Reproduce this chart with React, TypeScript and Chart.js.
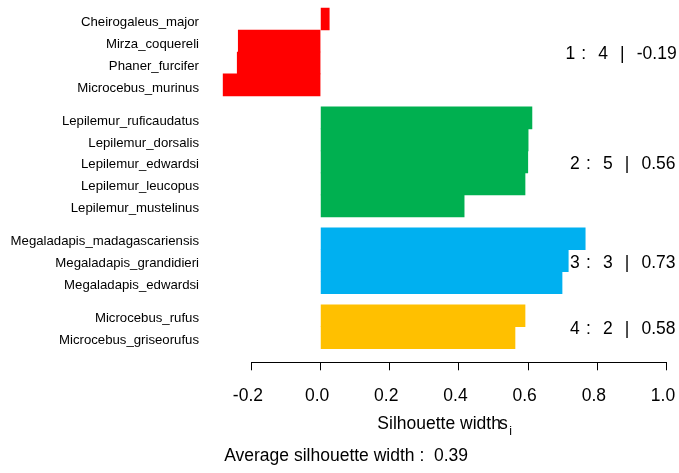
import React, { useEffect, useRef } from "react";
import { Chart, registerables } from "chart.js";

Chart.register(...registerables);

// ---- data ----
const cluster1Names = ["Cheirogaleus_major", "Mirza_coquereli", "Phaner_furcifer", "Microcebus_murinus"];
const cluster1Values = [0.025, -0.238, -0.241, -0.283];

const cluster2Names = [
  "Lepilemur_ruficaudatus",
  "Lepilemur_dorsalis",
  "Lepilemur_edwardsi",
  "Lepilemur_leucopus",
  "Lepilemur_mustelinus",
];
const cluster2Values = [0.611, 0.6, 0.599, 0.591, 0.415];

const cluster3Names = ["Megaladapis_madagascariensis", "Megaladapis_grandidieri", "Megaladapis_edwardsi"];
const cluster3Values = [0.765, 0.716, 0.698];

const cluster4Names = ["Microcebus_rufus", "Microcebus_griseorufus"];
const cluster4Values = [0.591, 0.562];

const clusterColors = ["#FF0000", "#00B050", "#00B0F0", "#FFC000"];
const clusterAvgLabels = ["-0.19", "0.56", "0.73", "0.58"];
const overallAverageLabel = "0.39";
const xTickValues = [-0.2, 0.0, 0.2, 0.4, 0.6, 0.8, 1.0];

const clusterNames = [cluster1Names, cluster2Names, cluster3Names, cluster4Names];
const clusterValues = [cluster1Values, cluster2Values, cluster3Values, cluster4Values];

const FONT = "'Liberation Sans', Arial, Helvetica, sans-serif";
const AXIS_FONT_SIZE = 17.5;
const NAME_FONT_SIZE = 13.2;

export default function App() {
  const ref = useRef<HTMLCanvasElement>(null);

  useEffect(() => {
    if (!ref.current) return;

    const names: string[] = [];
    const points: { x: number; y: number }[] = [];
    const colors: string[] = [];
    const groups: { center: number; text: string }[] = [];
    let offset = 0;
    clusterValues.forEach((vals, c) => {
      if (c > 0) offset += 0.5; // R silhouette gap between clusters
      const start = offset;
      vals.forEach((v, i) => {
        points.push({ x: v, y: offset + 0.5 });
        names.push(clusterNames[c][i]);
        colors.push(clusterColors[c]);
        offset += 1;
      });
      groups.push({
        center: (start + offset) / 2,
        text: `${c + 1} :  ${vals.length}  |  ${clusterAvgLabels[c]}`,
      });
    });
    const total = offset;
    const positions = points.map((p) => p.y);
    const allValues = points.map((p) => p.x);
    const xMin = Math.min(0, ...allValues);

    const overlay = {
      id: "silhouetteOverlay",
      afterDraw(chart: any) {
        const ctx = chart.ctx as CanvasRenderingContext2D;
        const xs = chart.scales.x;
        const ys = chart.scales.y;
        const area = chart.chartArea;
        ctx.save();
        ctx.fillStyle = "#000";
        ctx.strokeStyle = "#000";
        ctx.lineWidth = 1;

        // R-style axis line spanning the ticks only
        const ay = Math.floor(area.bottom) + 0.5;
        ctx.beginPath();
        ctx.moveTo(xs.getPixelForValue(xTickValues[0]), ay);
        ctx.lineTo(xs.getPixelForValue(xTickValues[xTickValues.length - 1]), ay);
        ctx.stroke();

        // axis title: Silhouette width s_i
        const cx = (area.left + area.right) / 2;
        ctx.font = `${AXIS_FONT_SIZE}px ${FONT}`;
        ctx.textBaseline = "alphabetic";
        ctx.textAlign = "left";
        const main = "Silhouette width";
        const w1 = ctx.measureText(main).width;
        const ws = ctx.measureText("s").width;
        ctx.font = `${AXIS_FONT_SIZE * 0.7}px ${FONT}`;
        const wi = ctx.measureText("i").width;
        const totalW = w1 - 2 + ws + 1.5 + wi;
        const sx = cx - totalW / 2;
        const baseY = 429;
        ctx.font = `${AXIS_FONT_SIZE}px ${FONT}`;
        ctx.fillText(main, sx, baseY);
        const sPos = sx + w1 - 2;
        ctx.fillText("s", sPos, baseY);
        ctx.font = `${AXIS_FONT_SIZE * 0.7}px ${FONT}`;
        ctx.fillText("i", sPos + ws + 1.5, baseY + 5.5);

        // subtitle
        ctx.font = `${AXIS_FONT_SIZE}px ${FONT}`;
        ctx.fillText(`Average silhouette width :  ${overallAverageLabel}`, area.left + 1.5, 461);

        // cluster statistics on the right (adj = 0.8)
        ctx.textBaseline = "middle";
        const spaceExtra = 1.2;
        (ctx as any).wordSpacing = `${spaceExtra}px`;
        const anchor = xs.getPixelForValue(0.965);
        groups.forEach((g) => {
          const base = ctx.measureText(g.text).width;
          const spaces = (g.text.match(/ /g) || []).length;
          // make width robust whether or not measureText includes word spacing
          ctx.save();
          (ctx as any).wordSpacing = "0px";
          const plain = ctx.measureText(g.text).width;
          ctx.restore();
          const w = Math.abs(base - plain) > 0.5 ? base : plain + spaces * spaceExtra;
          ctx.fillText(g.text, anchor - 0.8 * w, ys.getPixelForValue(g.center) + 2.5);
        });
        ctx.restore();
      },
    };

    const chart = new Chart(ref.current, {
      type: "bar",
      data: {
        datasets: [
          {
            data: points as any,
            backgroundColor: colors,
            borderWidth: 0,
            barPercentage: 1,
            categoryPercentage: 1,
          },
        ],
      },
      options: {
        animation: false,
        responsive: true,
        maintainAspectRatio: false,
        indexAxis: "y",
        layout: { padding: { left: 0, right: 12.5, top: 0, bottom: 0 } },
        plugins: { legend: { display: false }, tooltip: { enabled: false } },
        scales: {
          x: {
            type: "linear",
            min: xMin,
            max: 1,
            offset: false,
            border: { display: false },
            grid: {
              display: true,
              drawOnChartArea: false,
              drawTicks: true,
              tickLength: 8,
              color: "#000",
              lineWidth: 1,
            },
            ticks: {
              autoSkip: false,
              maxRotation: 0,
              padding: 15.2,
              labelOffset: -3.5,
              color: "#000",
              font: { family: FONT, size: AXIS_FONT_SIZE },
              callback: (v: any) => Number(v).toFixed(1),
            },
            afterBuildTicks: (scale: any) => {
              scale.ticks = xTickValues.map((v) => ({ value: v }));
            },
            afterFit: (scale: any) => {
              scale.height = 110.7;
              scale.paddingLeft = 0;
              scale.paddingRight = 0;
              scale.paddingTop = 0;
              scale.paddingBottom = 0;
            },
          },
          y: {
            type: "linear",
            reverse: true,
            offset: false,
            min: -0.364,
            max: total * 1.04,
            border: { display: false },
            grid: { display: false, drawTicks: false, offset: false },
            ticks: {
              autoSkip: false,
              padding: 23.7,
              labelOffset: 3,
              color: "#000",
              font: { family: FONT, size: NAME_FONT_SIZE },
              callback: (_v: any, i: number) => names[i],
            },
            afterBuildTicks: (scale: any) => {
              scale.ticks = positions.map((v) => ({ value: v }));
            },
            afterFit: (scale: any) => {
              scale.width = 222.7;
              scale.paddingLeft = 0;
              scale.paddingRight = 0;
              scale.paddingTop = 0;
              scale.paddingBottom = 0;
            },
          },
        },
      },
      plugins: [overlay],
    });

    return () => chart.destroy();
  }, []);

  return (
    <div style={{ position: "fixed", left: 0, top: 0, width: 679, height: 473, background: "#fff" }}>
      <canvas ref={ref} />
    </div>
  );
}
